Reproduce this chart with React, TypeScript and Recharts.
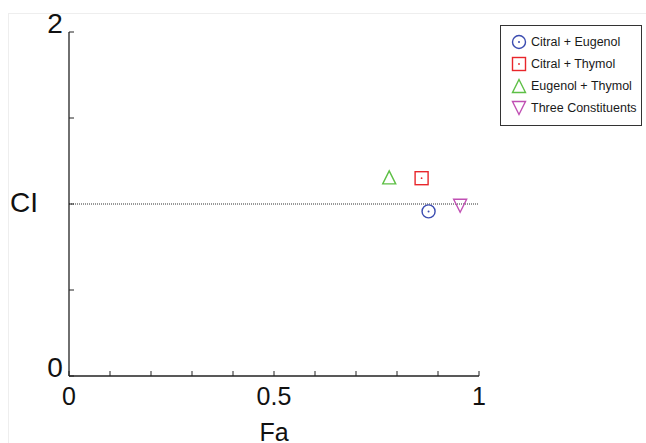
import React from 'react';
import { ScatterChart, Scatter, XAxis, YAxis, ReferenceLine } from 'recharts';

const combos = ['Citral + Eugenol', 'Citral + Thymol', 'Eugenol + Thymol', 'Three Constituents'];
const faValues = [0.877, 0.86, 0.781, 0.954];
const ciValues = [0.957, 1.15, 1.155, 0.99];
const markerKinds = ['circle', 'square', 'triangle', 'down'];
const colors = ['#3b4cb0', '#e8262b', '#5dbf45', '#c04fb3'];

const xTicks = [0, 0.1, 0.2, 0.3, 0.4, 0.5, 0.6, 0.7, 0.8, 0.9, 1];
const xLabels = ['0', '0.5', '1'];
const yTicks = [0, 0.5, 1, 1.5, 2];
const yLabels = ['0', '2'];

const FONT = '"Liberation Sans", Arial, sans-serif';

function Marker({ kind, cx, cy, color }: { kind: string; cx: number; cy: number; color: string }) {
  const s = 6.5;
  if (kind === 'circle') {
    return (
      <g>
        <circle cx={cx} cy={cy} r={s} fill="none" stroke={color} strokeWidth={1.4} />
        <circle cx={cx} cy={cy} r={1} fill={color} />
      </g>
    );
  }
  if (kind === 'square') {
    return (
      <g>
        <rect x={cx - s} y={cy - s} width={2 * s} height={2 * s} fill="none" stroke={color} strokeWidth={1.4} />
        <circle cx={cx} cy={cy} r={0.9} fill={color} />
      </g>
    );
  }
  if (kind === 'triangle') {
    return (
      <polygon
        points={`${cx},${cy - s} ${cx - s},${cy + s} ${cx + s},${cy + s}`}
        fill="none"
        stroke={color}
        strokeWidth={1.4}
      />
    );
  }
  return (
    <polygon
      points={`${cx - s},${cy - s} ${cx + s},${cy - s} ${cx},${cy + s}`}
      fill="none"
      stroke={color}
      strokeWidth={1.4}
    />
  );
}

const XTick = (props: any) => {
  const { x, y, payload } = props;
  const label = xLabels.find(l => Number(l) === payload.value);
  return (
    <g>
      <line x1={x} y1={y} x2={x} y2={y - 5} stroke="#222" strokeWidth={1} />
      {label !== undefined && (
        <text x={x} y={y + 29} textAnchor="middle" fontSize={25} fill="#111" fontFamily={FONT}>
          {label}
        </text>
      )}
    </g>
  );
};

const YTick = (props: any) => {
  const { x, y, payload } = props;
  const label = yLabels.find(l => Number(l) === payload.value);
  return (
    <g>
      <line x1={x} y1={y} x2={x + 5} y2={y} stroke="#222" strokeWidth={1} />
      {label !== undefined && (
        <text x={x - 14} y={y + 1} textAnchor="middle" fontSize={28} fill="#111" fontFamily={FONT}>
          {label}
        </text>
      )}
    </g>
  );
};

export default function App() {
  const series = combos.map((name, i) => ({
    name,
    kind: markerKinds[i],
    color: colors[i],
    data: [{ fa: faValues[i], ci: ciValues[i] }],
  }));

  return (
    <div style={{ position: 'absolute', left: 0, top: 0, width: 646, height: 443, background: '#fff', overflow: 'hidden' }}>
      <div style={{ position: 'absolute', left: 8, top: 13, width: 650, height: 440, borderLeft: '1px solid #eeeeee', borderTop: '1px solid #eeeeee' }} />
      <ScatterChart width={646} height={443} margin={{ top: 32, right: 167, left: 9, bottom: 37 }}>
        <XAxis
          type="number"
          dataKey="fa"
          domain={[0, 1]}
          ticks={xTicks}
          interval={0}
          tickSize={0}
          tickMargin={0}
          tick={<XTick />}
          axisLine={{ stroke: '#222', strokeWidth: 1.3 }}
          tickLine={false}
          height={30}
          label={{ value: 'Fa', position: 'bottom', offset: 17, fontSize: 25, fill: '#111', fontFamily: FONT }}
        />
        <YAxis
          type="number"
          dataKey="ci"
          domain={[0, 2]}
          ticks={yTicks}
          interval={0}
          tickSize={0}
          tickMargin={0}
          tick={<YTick />}
          axisLine={{ stroke: '#222', strokeWidth: 1.3 }}
          tickLine={false}
          width={60}
        />
        <ReferenceLine y={1} stroke="#333" strokeDasharray="1 1" strokeWidth={1.2} />
        {series.map(s => (
          <Scatter
            key={s.name}
            name={s.name}
            data={s.data}
            isAnimationActive={false}
            shape={(p: any) => <Marker kind={s.kind} cx={p.cx} cy={p.cy} color={s.color} />}
          />
        ))}
      </ScatterChart>
      <div
        style={{
          position: 'absolute',
          left: 10,
          top: 189,
          fontSize: 28,
          fontFamily: FONT,
          color: '#111',
          lineHeight: '28px',
        }}
      >
        CI
      </div>
      <div
        style={{
          position: 'absolute',
          left: 500,
          top: 25,
          width: 142,
          height: 101,
          border: '1px solid #333',
          boxSizing: 'border-box',
          background: '#fff',
          fontFamily: FONT,
          fontSize: 12.5,
          color: '#1a1a1a',
          paddingTop: 5,
        }}
      >
        {series.map(s => (
          <div key={s.name} style={{ display: 'flex', alignItems: 'center', height: 22 }}>
            <svg width={30} height={20} style={{ flex: 'none' }}>
              <Marker kind={s.kind} cx={18} cy={10} color={s.color} />
            </svg>
            <span style={{ whiteSpace: 'nowrap' }}>{s.name}</span>
          </div>
        ))}
      </div>
    </div>
  );
}
